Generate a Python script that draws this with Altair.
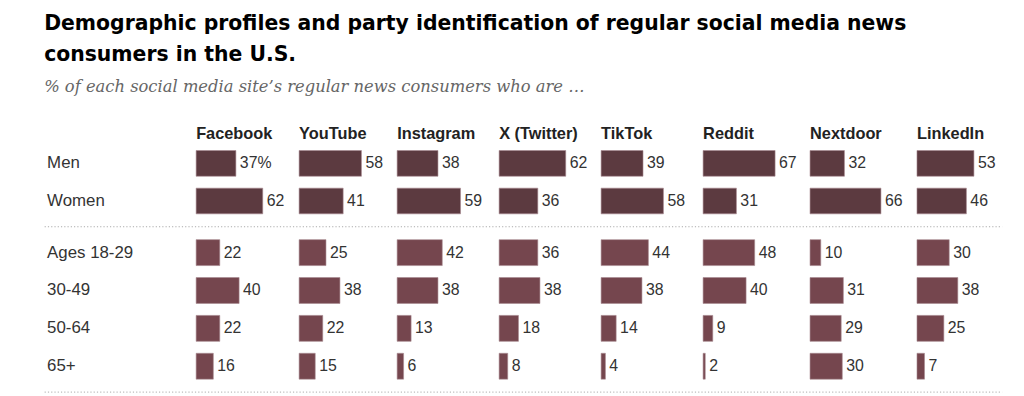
import altair as alt
import pandas as pd

sites = ["Facebook", "YouTube", "Instagram", "X (Twitter)", "TikTok", "Reddit", "Nextdoor", "LinkedIn"]
gender_rows = ["Men", "Women"]
age_rows = ["Ages 18-29", "30-49", "50-64", "65+"]

men = [37, 58, 38, 62, 39, 67, 32, 53]
women = [62, 41, 59, 36, 58, 31, 66, 46]
age_18_29 = [22, 25, 42, 36, 44, 48, 10, 30]
age_30_49 = [40, 38, 38, 38, 38, 40, 31, 38]
age_50_64 = [22, 22, 13, 18, 14, 9, 29, 25]
age_65 = [16, 15, 6, 8, 4, 2, 30, 7]

# layout: width of each site's column (pixels)
col_widths = [103, 98, 102, 102, 102, 107, 107, 95]
PX_PER_UNIT = 1.085


def make_df(rows, series):
    recs = []
    for r, vals in zip(rows, series):
        for s, v in zip(sites, vals):
            recs.append({"site": s, "row": r, "value": v, "label": str(v)})
    return pd.DataFrame(recs)


gdf = make_df(gender_rows, [men, women])
gdf.loc[(gdf.site == "Facebook") & (gdf.row == "Men"), "label"] = "37%"
adf = make_df(age_rows, [age_18_29, age_30_49, age_50_64, age_65])

FONT = "Liberation Sans"


def cell(df, rows, site, width, color, height, first, show_title):
    if first:
        axis = alt.Axis(
            title=None, domain=False, ticks=False, labelAlign="left",
            labelPadding=151, labelFontSize=17, labelColor="#333333",
            labelFont=FONT,
        )
    else:
        axis = None
    y = alt.Y(
        "row:N",
        sort=rows,
        scale=alt.Scale(paddingInner=0.316, paddingOuter=0.158),
        axis=axis,
    )
    x = alt.X("value:Q", scale=alt.Scale(domain=[0, width / PX_PER_UNIT]), axis=None)
    bars = alt.Chart().mark_bar(color=color, stroke="#a88890", strokeWidth=0.6).encode(x=x, y=y)
    text = alt.Chart().mark_text(
        align="left", baseline="middle", dx=4, fontSize=16, font=FONT, color="#333333"
    ).encode(x=x, y=y, text="label:N")
    props = dict(width=width, height=height)
    if show_title:
        props["title"] = alt.TitleParams(
            site, anchor="start", frame="group", font=FONT, fontSize=16.5,
            fontWeight="bold", color="#222222", offset=2,
        )
    return alt.layer(bars, text, data=df).transform_filter(
        alt.datum.site == site
    ).properties(**props)


def panel(df, rows, color, height, show_title):
    cells = [
        cell(df, rows, s, w, color, height, i == 0, show_title)
        for i, (s, w) in enumerate(zip(sites, col_widths))
    ]
    return alt.hconcat(*cells, spacing=0)


def separator():
    return alt.Chart(pd.DataFrame({"k": [0]})).mark_rule(
        color="#aaaaaa", strokeDash=[1.2, 2.1], strokeWidth=1
    ).encode(x=alt.value(-153), x2=alt.value(814), y=alt.value(0)).properties(
        width=sum(col_widths), height=1
    )


top = panel(gdf, gender_rows, "#5c3a40", 76, True)
bottom = panel(adf, age_rows, "#75464e", 153, False)

chart = alt.vconcat(top, separator(), bottom, separator(), spacing=6).properties(
    title=alt.TitleParams(
        text=[
            "Demographic profiles and party identification of regular social media news",
            "consumers in the U.S.",
        ],
        subtitle="% of each social media site\u2019s regular news consumers who are \u2026",
        anchor="start",
        font="DejaVu Sans",
        fontSize=20.6,
        fontWeight="bold",
        color="#000000",
        lineHeight=31,
        subtitleFont="DejaVu Serif",
        subtitleFontStyle="italic",
        subtitleFontSize=16.5,
        subtitleColor="#666666",
        subtitlePadding=14,
        offset=31,
    ),
    padding={"left": 36, "top": 4, "right": 5, "bottom": 0},
    background="white",
).configure_view(stroke=None)

chart.save("out.html", embed_options={"renderer": "svg", "actions": False})
